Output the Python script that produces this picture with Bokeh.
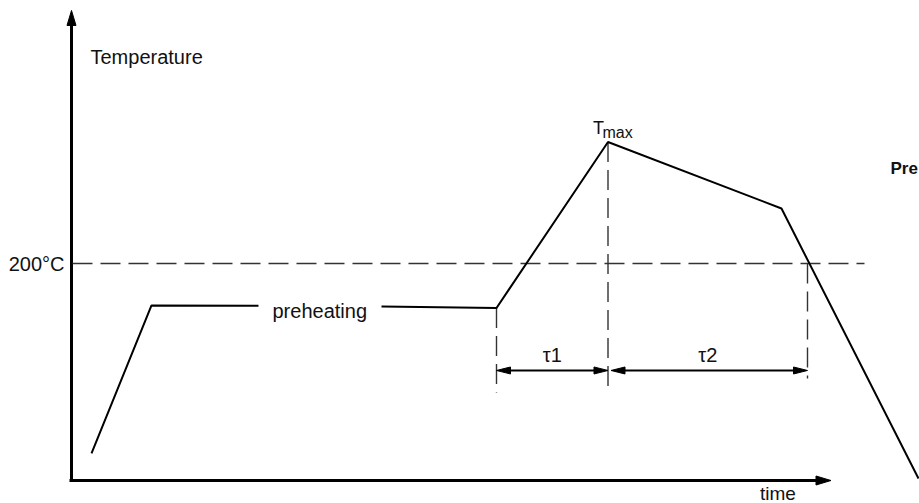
from bokeh.plotting import figure
from bokeh.models import Range1d
from bokeh.embed import file_html
from bokeh.resources import INLINE
from bokeh.core.properties import value

# ---------------- data (time: arbitrary units, temperature: °C) ----------------
# reflow profile, split where the "preheating" label interrupts the plateau
ramp_time = [20, 80, 187]
ramp_temp = [25.0, 161.3, 161.0]
main_time = [310, 425, 536.5, 710, 847]
main_temp = [160.3, 159.0, 312.0, 250.7, 1.8]

T_200 = 200.0
T_MAX = 312.0
t_tau_start = 425.0
t_peak = 536.5
t_cross200 = 736.0
T_tau_level = 101.4               # level of the tau dimension arrows
T_drop_end = [81.1, 81.1, 94.0]   # lower ends of the dashed verticals

axis_time_end = 759.5
axis_temp_end = 433.2
line200_time = [1, 793]

labels = {
    "temperature": "Temperature",
    "t200": "200°C",
    "preheat": "preheating",
    "tau1": "τ1",
    "tau2": "τ2",
    "tmax_main": "T",
    "tmax_sub": "max",
    "time": "time",
    "side": "Pre",
}

# ---------------- figure ----------------
W, H = 919, 503
X0, X1 = -71.0, 848.0
SY = 217.0 / 200.0            # px per °C
Y0, Y1 = -23.0 / SY, 480.0 / SY
SX = W / (X1 - X0)

p = figure(width=W, height=H, output_backend="svg", toolbar_location=None,
           x_range=Range1d(X0, X1), y_range=Range1d(Y0, Y1),
           x_axis_type=None, y_axis_type=None, min_border=0)
p.grid.visible = False
p.outline_line_color = None
p.background_fill_color = "white"
p.border_fill_color = "white"

FONT = value("Liberation Sans")
INK = "#111111"


def head(tip_x, tip_y, dx, dy, length, width):
    """Filled arrow head polygon: tip in data units, direction in px space."""
    n = (dx * dx + dy * dy) ** 0.5
    ux, uy = dx / n, dy / n
    tx, ty = tip_x * SX, tip_y * SY
    bx, by = tx - ux * length, ty - uy * length
    nx, ny = -uy, ux
    xs = [tx, bx + nx * width / 2, bx - nx * width / 2]
    ys = [ty, by + ny * width / 2, by - ny * width / 2]
    return [x / SX for x in xs], [y / SY for y in ys]


# axes with arrows
p.line([0, 0], [-0.9, axis_temp_end - 12 / SY], line_color="black", line_width=3)
hx, hy = head(0, axis_temp_end, 0, 1, 15, 9)
p.patch(hx, hy, fill_color="black", line_color="black", line_width=1)
p.line([-2, axis_time_end - 12], [0, 0], line_color="black", line_width=3)
hx, hy = head(axis_time_end, 0, 1, 0, 15, 9)
p.patch(hx, hy, fill_color="black", line_color="black", line_width=1)

# dashed reference lines
DASH = "20 8"
DCOL = "#333333"
p.line(line200_time, [T_200, T_200], line_color=DCOL, line_width=1.4, line_dash=DASH)
p.line([t_tau_start, t_tau_start], [159.0, T_drop_end[0]], line_color=DCOL,
       line_width=1.4, line_dash=DASH)
p.line([t_peak, t_peak], [T_MAX, T_drop_end[1]], line_color=DCOL,
       line_width=1.4, line_dash=DASH)
p.line([t_cross200, t_cross200], [T_200, T_drop_end[2]], line_color=DCOL,
       line_width=1.4, line_dash=DASH)

# profile curve
p.line(ramp_time, ramp_temp, line_color="black", line_width=2)
p.line(main_time, main_temp, line_color="black", line_width=2)

# tau dimension arrows
tau_spans = [(t_tau_start, t_peak), (t_peak + 3, t_cross200)]
for a, b in tau_spans:
    p.line([a + 8, b - 8], [T_tau_level, T_tau_level], line_color="black", line_width=2)
    for tip, d in ((a, -1), (b, 1)):
        hx, hy = head(tip, T_tau_level, d, 0, 14, 7)
        p.patch(hx, hy, fill_color="black", line_color="black", line_width=1)


# texts
def txt(x, y, s, size, align="left", style="normal"):
    p.text(x=[x], y=[y], text=[s], text_font=FONT, text_font_size=f"{size}px",
           text_color=INK, text_align=align, text_baseline="alphabetic",
           text_font_style=style)


txt(19, 390.3, labels["temperature"], 20)
txt(-7, T_200, labels["t200"], 20, align="right")
txt(201, 156.3, labels["preheat"], 20)
txt((t_tau_start + t_peak) / 2, 116.1, labels["tau1"], 20, align="center")
txt((t_peak + t_cross200) / 2, 116.1, labels["tau2"], 20, align="center")
txt(521.5, 325.3, labels["tmax_main"], 18)
txt(531, 320.7, labels["tmax_sub"], 16)
txt(688.5, -12.0, labels["time"], 19)
txt(819, 287.6, labels["side"], 17, style="bold")

open("out.html", "w").write(file_html(p, INLINE))
